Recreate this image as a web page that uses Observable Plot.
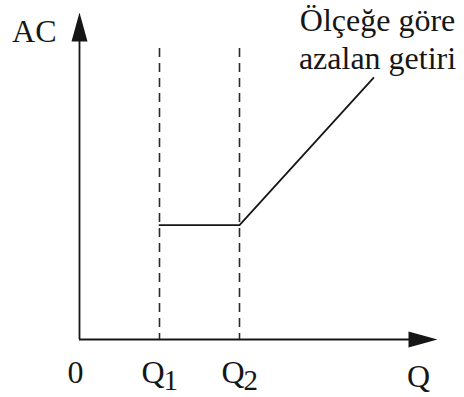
<!DOCTYPE html>
<html>
<head>
<meta charset="utf-8">
<script src="https://cdn.jsdelivr.net/npm/d3@7"></script>
<script src="https://cdn.jsdelivr.net/npm/@observablehq/plot@0.6"></script>
<style>
  html, body { margin: 0; padding: 0; background: #fff; }
  svg { overflow: visible; }
</style>
</head>
<body>
<div id="chart"></div>
<script>
// ---- data ----
const acQ = [2, 4, 7.35];          // Q positions of the AC curve
const acValues = [3.5, 3.5, 8];    // AC values
const dashedQ = [2, 4];            // Q1, Q2
const dashTop = 8.9;
const tickQ = [0, 2, 4];
const tickMain = ["0", "Q", "Q"];
const tickSub = ["", "1", "2"];
const axisEndX = 8.95;
const axisEndY = 10;
const yAxisLabel = "AC";
const xAxisLabel = "Q";
const curveLabelLines = ["Ölçeğe göre", "azalan getiri"];

const acData = acQ.map((q, i) => ({q, ac: acValues[i]}));
const ticks = tickQ.map((q, i) => ({q, main: tickMain[i], sub: tickSub[i]}));
const curveEnd = acData[acData.length - 1];

const font = "'Liberation Serif'";
const ink = "#161616";

const arrowUp = { draw(ctx) { ctx.moveTo(0, 0); ctx.lineTo(-8, 29); ctx.lineTo(8, 29); ctx.closePath(); } };
const arrowRight = { draw(ctx) { ctx.moveTo(0, 0); ctx.lineTo(-29, -8); ctx.lineTo(-29, 8); ctx.closePath(); } };

const txt = {fontFamily: font, fill: ink, lineAnchor: "bottom"};

const chart = Plot.plot({
  width: 464,
  height: 397,
  marginLeft: 79,
  marginRight: 25,
  marginTop: 12,
  marginBottom: 58,
  x: {domain: [0, 9], axis: null},
  y: {domain: [0, 10], axis: null},
  style: {background: "#fff", color: ink},
  marks: [
    // dashed guides at Q1, Q2
    Plot.ruleX(dashedQ, {y1: dashTop, y2: 0, stroke: "#2a2a2a", strokeWidth: 1.6, strokeDasharray: "9,6"}),
    // axes
    Plot.ruleX([0], {y1: 0, y2: axisEndY - 0.5, stroke: ink, strokeWidth: 1.8}),
    Plot.ruleY([0], {x1: 0, x2: axisEndX - 0.4, stroke: ink, strokeWidth: 1.8}),
    Plot.dot([{x: 0, y: axisEndY}], {x: "x", y: "y", r: 1, symbol: arrowUp, fill: ink, stroke: "none"}),
    Plot.dot([{x: axisEndX, y: 0}], {x: "x", y: "y", r: 1, symbol: arrowRight, fill: ink, stroke: "none"}),
    // AC curve
    Plot.line(acData, {x: "q", y: "ac", stroke: ink, strokeWidth: 1.8}),
    // tick labels
    Plot.text(ticks.filter(d => d.sub === ""), {...txt, x: "q", y: 0, text: "main", fontSize: 32, textAnchor: "middle", dx: -4, dy: 43}),
    Plot.text(ticks.filter(d => d.sub !== ""), {...txt, x: "q", y: 0, text: "main", fontSize: 32, textAnchor: "end", dx: 5, dy: 43}),
    Plot.text(ticks.filter(d => d.sub !== ""), {...txt, x: "q", y: 0, text: "sub", fontSize: 29, textAnchor: "start", dx: 4, dy: 50}),
    // axis labels
    Plot.text([xAxisLabel], {...txt, x: axisEndX, y: 0, text: d => d, fontSize: 32, textAnchor: "middle", dx: -19, dy: 47}),
    Plot.text([yAxisLabel], {...txt, x: 0, y: axisEndY, text: d => d, fontSize: 32, textAnchor: "end", dx: -23, dy: 29}),
    // curve label (two lines)
    Plot.text([curveEnd], {...txt, x: "q", y: "ac", text: () => curveLabelLines[0], fontSize: 32, textAnchor: "middle", dx: 4, dy: -47}),
    Plot.text([curveEnd], {...txt, x: "q", y: "ac", text: () => curveLabelLines[1], fontSize: 32, textAnchor: "middle", dx: 4, dy: -9})
  ]
});
document.getElementById("chart").appendChild(chart);
</script>
</body>
</html>
